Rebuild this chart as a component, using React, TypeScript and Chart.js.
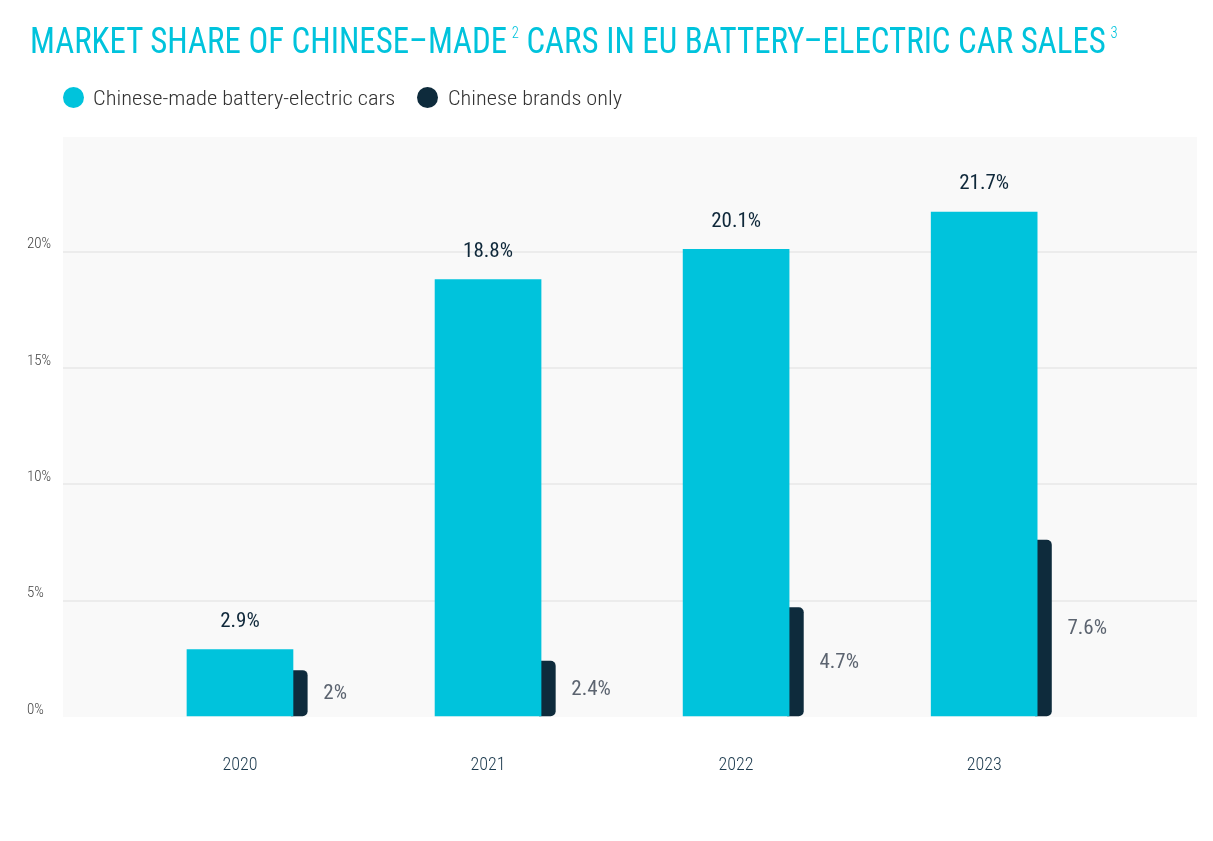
import React, { useEffect, useLayoutEffect, useRef, useState } from "react";
import { Chart, registerables } from "chart.js";

Chart.register(...registerables);

// ---- data ----
const years = ["2020", "2021", "2022", "2023"];
const chineseMade = [2.9, 18.8, 20.1, 21.7];
const chineseBrands = [2, 2.4, 4.7, 7.6];
const yTicks = [0, 5, 10, 15, 20];
const seriesNames = ["Chinese-made battery-electric cars", "Chinese brands only"];
const titleParts = ["MARKET SHARE OF CHINESE–MADE", " CARS IN EU BATTERY–ELECTRIC CAR SALES"];
const footnotes = ["2", "3"];

// ---- style ----
const CYAN = "#00c3dc";
const NAVY = "#0e2b3c";
const FONT = "'Roboto Condensed', Roboto, 'Noto Sans', sans-serif";
const X_MIN = -0.7135;
const X_MAX = 3.858;
const DARK_SHIFT = 0.239;
const Y_MAX = 24.93;

function FitText({ width, style, children }: { width: number; style?: React.CSSProperties; children: React.ReactNode }) {
  const ref = useRef<HTMLSpanElement>(null);
  const [scale, setScale] = useState(1);
  useLayoutEffect(() => {
    const measure = () => {
      const el = ref.current;
      if (!el) return;
      const w = el.scrollWidth;
      if (w > 0) setScale(width / w);
    };
    measure();
    (document as any).fonts?.ready.then(measure);
  }, [width]);
  return (
    <span
      ref={ref}
      style={{
        display: "inline-block",
        whiteSpace: "nowrap",
        transformOrigin: "0 0",
        transform: `scaleX(${scale})`,
        ...style,
      }}
    >
      {children}
    </span>
  );
}

const bgPlugin = {
  id: "plotBg",
  beforeDraw(chart: any) {
    const { ctx, chartArea: a } = chart;
    ctx.save();
    ctx.fillStyle = "#f9f9f9";
    ctx.fillRect(a.left, a.top, a.right - a.left, a.bottom - a.top);
    ctx.restore();
  },
};

const labelPlugin = {
  id: "valueLabels",
  afterDatasetsDraw(chart: any) {
    const ctx = chart.ctx;
    chart.data.datasets.forEach((ds: any, di: number) => {
      const meta = chart.getDatasetMeta(di);
      meta.data.forEach((bar: any, i: number) => {
        const p = bar.getProps(["x", "y", "base", "width"], true);
        const v = ds.data[i].y;
        const text = `${v}%`;
        ctx.save();
        ctx.textBaseline = "middle";
        if (di === 0) {
          ctx.font = `400 21px ${FONT}`;
          ctx.fillStyle = "#0f283a";
          ctx.textAlign = "center";
          ctx.fillText(text, p.x, p.y - 28);
        } else {
          ctx.font = `400 21px ${FONT}`;
          ctx.fillStyle = "#5c6470";
          ctx.textAlign = "left";
          ctx.fillText(text, p.x + p.width / 2 + 16, (p.y + p.base) / 2 + 1);
        }
        ctx.restore();
      });
    });
  },
};

function BarChart() {
  const canvasRef = useRef<HTMLCanvasElement>(null);
  useEffect(() => {
    if (!canvasRef.current) return;
    const chart = new Chart(canvasRef.current, {
      type: "bar",
      data: {
        datasets: [
          {
            label: seriesNames[0],
            data: chineseMade.map((v, i) => ({ x: i, y: v })),
            backgroundColor: CYAN,
            barThickness: 106,
            maxBarThickness: 106,
            grouped: false,
            xAxisID: "x",
            order: 0,
          } as any,
          {
            label: seriesNames[1],
            data: chineseBrands.map((v, i) => ({ x: i, y: v })),
            backgroundColor: NAVY,
            barThickness: 16,
            maxBarThickness: 16,
            grouped: false,
            xAxisID: "x2",
            order: 1,
            borderRadius: { topLeft: 0, bottomLeft: 0, topRight: 5, bottomRight: 5 },
            borderSkipped: false,
          } as any,
        ],
      },
      options: {
        animation: false,
        responsive: true,
        maintainAspectRatio: false,
        events: [],
        layout: { padding: { left: 19, top: 129, right: 8, bottom: 31 } },
        plugins: { legend: { display: false }, tooltip: { enabled: false } },
        scales: {
          x: {
            type: "linear",
            min: X_MIN,
            max: X_MAX,
            offset: false,
            grid: { display: false, drawTicks: false },
            border: { display: false },
            afterBuildTicks: (s: any) => {
              s.ticks = years.map((_, i) => ({ value: i }));
            },
            afterFit: (s: any) => {
              s.height = 60;
            },
            ticks: {
              autoSkip: false,
              maxRotation: 0,
              padding: 38,
              color: "#1c3a4e",
              font: { family: FONT, size: 18, weight: 300 as any },
              callback: (v: any) => years[v],
            },
          },
          x2: {
            type: "linear",
            display: false,
            min: X_MIN - DARK_SHIFT,
            max: X_MAX - DARK_SHIFT,
            offset: false,
          },
          y: {
            position: "left",
            min: 0,
            max: Y_MAX,
            afterBuildTicks: (s: any) => {
              s.ticks = yTicks.map((v) => ({ value: v }));
            },
            afterFit: (s: any) => {
              s.width = 36;
            },
            border: { display: false },
            grid: {
              drawTicks: false,
              lineWidth: 2,
              color: (c: any) => (c.tick && c.tick.value === 0 ? "rgba(0,0,0,0)" : "#ececec"),
            },
            ticks: {
              crossAlign: "far",
              labelOffset: -7,
              padding: 0,
              color: "#444",
              font: { family: FONT, size: 15, weight: 300 as any },
              callback: (v: any) => `${v}%`,
            },
          },
        },
      } as any,
      plugins: [bgPlugin, labelPlugin],
    });
    return () => chart.destroy();
  }, []);
  return <canvas ref={canvasRef} />;
}

export default function App() {
  const supStyle: React.CSSProperties = {
    fontSize: 16,
    fontWeight: 300,
    position: "relative",
    top: -15,
    marginLeft: 5,
  };
  const dot = (color: string): React.CSSProperties => ({
    position: "absolute",
    width: 21,
    height: 21,
    borderRadius: "50%",
    background: color,
    top: 79,
  });
  const legendText: React.CSSProperties = {
    fontFamily: FONT,
    fontSize: 21,
    fontWeight: 300,
    lineHeight: "24px",
    color: "#333",
  };
  return (
    <div style={{ position: "relative", width: 1197, height: 810, fontFamily: FONT }}>
      <div style={{ position: "absolute", left: 0, top: 0, width: 1197, height: 800 }}>
        <BarChart />
      </div>
      <div style={{ position: "absolute", left: 22, top: 15, color: CYAN, fontSize: 36, lineHeight: "36px", fontWeight: 400 }}>
        <FitText width={1088}>
          {titleParts[0]}
          <span style={supStyle}>{footnotes[0]}</span>
          {titleParts[1]}
          <span style={supStyle}>{footnotes[1]}</span>
        </FitText>
      </div>
      <div style={{ ...dot(CYAN), left: 55 }} />
      <div style={{ position: "absolute", left: 85, top: 78 }}>
        <FitText width={302} style={legendText}>{seriesNames[0]}</FitText>
      </div>
      <div style={{ ...dot(NAVY), left: 409 }} />
      <div style={{ position: "absolute", left: 440, top: 78 }}>
        <FitText width={174} style={legendText}>{seriesNames[1]}</FitText>
      </div>
    </div>
  );
}
